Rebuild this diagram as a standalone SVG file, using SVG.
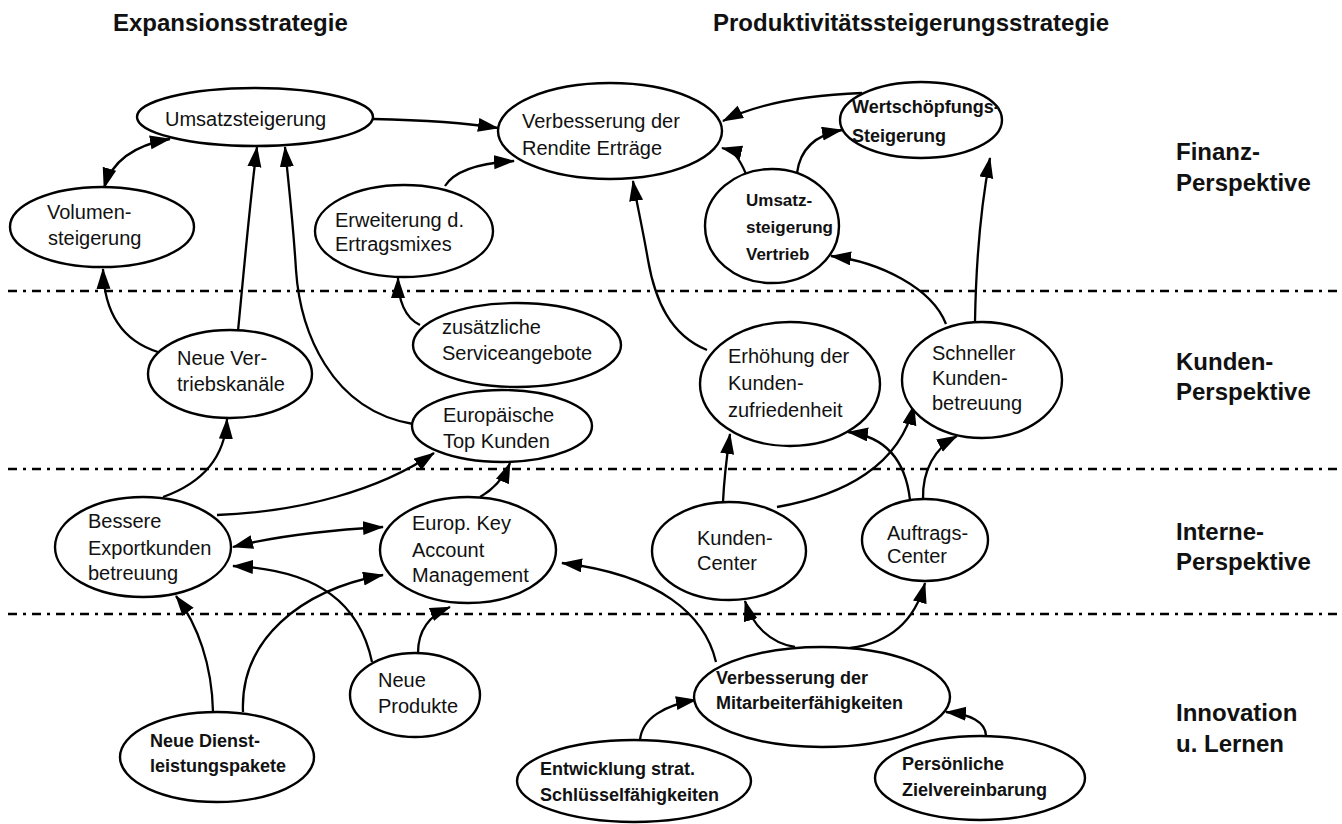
<svg xmlns="http://www.w3.org/2000/svg" width="1342" height="824" viewBox="0 0 1342 824">
<defs>
<marker id="ah" markerUnits="userSpaceOnUse" markerWidth="24" markerHeight="16" refX="20" refY="7" orient="auto-start-reverse">
<path d="M0,0 L21,7 L0,14 z" fill="#000"/>
</marker>
<style>
.n ellipse{fill:#fff;stroke:#000;stroke-width:2.4}
.n text{font-family:"Liberation Sans",Arial,sans-serif;font-size:20px;fill:#111}
.n text.b{font-weight:bold;font-size:18px}
.n text.s{font-size:17px}
.c path{fill:none;stroke:#000;stroke-width:2.3;marker-end:url(#ah)}
.c path.bi{marker-start:url(#ah)}
.sep line{stroke:#000;stroke-width:2.6;stroke-dasharray:9,6,3,6}
.lab text{font-family:"Liberation Sans",Arial,sans-serif;font-weight:bold;font-size:24px;fill:#111}
</style>
</defs>
<rect width="1342" height="824" fill="#fff"/>

<g class="sep">
<line x1="8" y1="291" x2="1340" y2="291"/>
<line x1="8" y1="469" x2="1340" y2="469"/>
<line x1="8" y1="614" x2="1340" y2="614"/>
</g>

<g class="lab">
<text x="113" y="31">Expansionsstrategie</text>
<text x="713" y="31">Produktivitätssteigerungsstrategie</text>
<text x="1176" y="160">Finanz-</text>
<text x="1176" y="191">Perspektive</text>
<text x="1176" y="370">Kunden-</text>
<text x="1176" y="400">Perspektive</text>
<text x="1176" y="540">Interne-</text>
<text x="1176" y="570">Perspektive</text>
<text x="1176" y="721">Innovation</text>
<text x="1176" y="752">u. Lernen</text>
</g>

<g class="c">
<path class="bi" d="M104,188 C112,160 135,145 170,139"/>
<path d="M373,119 C420,120 460,122 498,128"/>
<path d="M238,331 C244,270 250,200 257,147"/>
<path d="M413,424 C330,410 300,330 296,270 C293,220 288,180 285,147"/>
<path d="M158,352 C120,340 104,310 103,269"/>
<path d="M445,186 C455,170 480,163 514,161"/>
<path d="M420,325 C405,318 398,300 398,278"/>
<path d="M707,350 C670,335 655,300 648,260 C642,225 636,200 633,181"/>
<path d="M746,174 C740,160 735,151 722,148"/>
<path d="M797,173 C800,150 815,135 842,130"/>
<path d="M862,93 C810,95 760,102 723,121"/>
<path d="M975,322 C976,260 982,200 990,158"/>
<path d="M946,324 C932,288 880,262 831,256"/>
<path d="M723,502 C724,480 727,455 730,434"/>
<path d="M777,507 C845,495 900,465 914,405"/>
<path d="M910,500 C905,455 880,436 848,432"/>
<path d="M923,500 C922,470 935,448 957,436"/>
<path d="M163,497 C205,482 225,455 227,419"/>
<path d="M217,515 C300,512 380,490 434,453"/>
<path class="bi" d="M233,547 C280,535 330,530 383,527"/>
<path d="M480,497 C492,490 503,480 510,463"/>
<path d="M213,712 C212,665 198,625 176,596"/>
<path d="M243,712 C240,640 300,590 383,575"/>
<path d="M372,662 C360,605 320,570 233,566"/>
<path d="M418,653 C418,630 430,615 450,607"/>
<path d="M716,662 C705,615 660,575 562,563"/>
<path d="M795,647 C770,643 752,625 745,601"/>
<path d="M850,648 C890,643 915,620 925,583"/>
<path d="M640,740 C642,718 665,705 696,700"/>
<path d="M986,736 C986,722 970,714 946,712"/>
</g>

<g id="umsatzsteigerung" class="n"><ellipse cx="255" cy="117" rx="118" ry="29"/><text x="165" y="126">Umsatzsteigerung</text></g>
<g id="volumensteigerung" class="n"><ellipse cx="102" cy="227" rx="92" ry="40"/><text x="47" y="219">Volumen-</text><text x="48" y="245">steigerung</text></g>
<g id="rendite" class="n"><ellipse cx="610" cy="131" rx="112" ry="48"/><text x="522" y="128">Verbesserung der</text><text x="522" y="155">Rendite Erträge</text></g>
<g id="ertragsmix" class="n"><ellipse cx="404" cy="231" rx="89" ry="46"/><text x="335" y="227">Erweiterung d.</text><text x="335" y="251">Ertragsmixes</text></g>
<g id="wertschoepfung" class="n"><ellipse cx="921" cy="120" rx="81" ry="38"/><text class="b" x="852" y="113">Wertschöpfungs-</text><text class="b" x="852" y="142">Steigerung</text></g>
<g id="umsatz-vertrieb" class="n"><ellipse cx="772" cy="226" rx="67" ry="57"/><text class="b s" x="746" y="206">Umsatz-</text><text class="b s" x="746" y="233">steigerung</text><text class="b s" x="746" y="260">Vertrieb</text></g>
<g id="service" class="n"><ellipse cx="517" cy="345" rx="104" ry="42"/><text x="442" y="334">zusätzliche</text><text x="442" y="360">Serviceangebote</text></g>
<g id="vertriebskanaele" class="n"><ellipse cx="230" cy="374" rx="82" ry="44"/><text x="177" y="365">Neue Ver-</text><text x="177" y="391">triebskanäle</text></g>
<g id="topkunden" class="n"><ellipse cx="502" cy="426" rx="90" ry="36"/><text x="443" y="422">Europäische</text><text x="443" y="448">Top Kunden</text></g>
<g id="zufriedenheit" class="n"><ellipse cx="790" cy="384" rx="90" ry="62"/><text x="728" y="363">Erhöhung der</text><text x="728" y="390">Kunden-</text><text x="728" y="417">zufriedenheit</text></g>
<g id="kundenbetreuung" class="n"><ellipse cx="982" cy="380" rx="80" ry="58"/><text x="932" y="360">Schneller</text><text x="932" y="385">Kunden-</text><text x="932" y="410">betreuung</text></g>
<g id="exportkunden" class="n"><ellipse cx="143" cy="547" rx="88" ry="50"/><text x="88" y="528">Bessere</text><text x="88" y="555">Exportkunden</text><text x="88" y="580">betreuung</text></g>
<g id="keyaccount" class="n"><ellipse cx="468" cy="550" rx="88" ry="53"/><text x="412" y="530">Europ. Key</text><text x="412" y="557">Account</text><text x="412" y="582">Management</text></g>
<g id="kundencenter" class="n"><ellipse cx="729" cy="551" rx="77" ry="49"/><text x="697" y="545">Kunden-</text><text x="697" y="570">Center</text></g>
<g id="auftragscenter" class="n"><ellipse cx="925" cy="540" rx="63" ry="41"/><text x="887" y="540">Auftrags-</text><text x="887" y="563">Center</text></g>
<g id="produkte" class="n"><ellipse cx="415" cy="695" rx="65" ry="42"/><text x="378" y="687">Neue</text><text x="378" y="713">Produkte</text></g>
<g id="dienstleistung" class="n"><ellipse cx="217" cy="757" rx="97" ry="45"/><text class="b" x="150" y="747">Neue Dienst-</text><text class="b" x="150" y="772">leistungspakete</text></g>
<g id="mitarbeiter" class="n"><ellipse cx="822" cy="697" rx="128" ry="50"/><text class="b" x="716" y="684">Verbesserung der</text><text class="b" x="716" y="709">Mitarbeiterfähigkeiten</text></g>
<g id="schluessel" class="n"><ellipse cx="634" cy="781" rx="117" ry="41"/><text class="b" x="540" y="775">Entwicklung strat.</text><text class="b" x="540" y="801">Schlüsselfähigkeiten</text></g>
<g id="zielvereinbarung" class="n"><ellipse cx="980" cy="778" rx="105" ry="42"/><text class="b" x="902" y="770">Persönliche</text><text class="b" x="902" y="796">Zielvereinbarung</text></g>
</svg>
